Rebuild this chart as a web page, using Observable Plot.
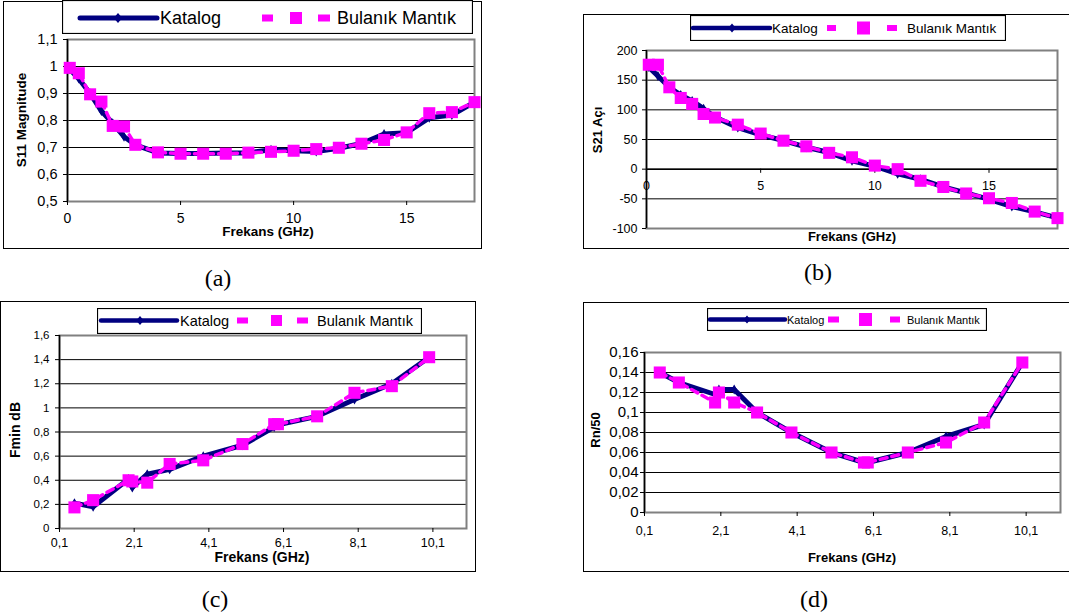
<!DOCTYPE html>
<html><head><meta charset="utf-8">
<script src="https://cdn.jsdelivr.net/npm/d3@7"></script>
<script src="https://cdn.jsdelivr.net/npm/@observablehq/plot@0.6"></script>
<style>
html,body{margin:0;padding:0;background:#fff;}
body{width:1069px;height:616px;overflow:hidden;position:relative;font-family:"Liberation Sans",Arial,sans-serif;color:#000;}
.box{position:absolute;border:1.5px solid #000;box-sizing:border-box;}
.svgwrap{position:absolute;}
.ttl{position:absolute;font-weight:bold;white-space:nowrap;transform:translate(-50%,-50%);line-height:1;}
.rot{transform:translate(-50%,-50%) rotate(-90deg);}
.cap{position:absolute;font-family:"Liberation Serif","Times New Roman",serif;font-size:24px;transform:translate(-50%,-50%);line-height:1;}
.leg{position:absolute;}
</style></head><body>
<script>
// ---------------- DATA ----------------
const seriesNames = ["Katalog", "Bulanık Mantık"];

// (a) S11 Magnitude and (b) S21 angle
const freqAB = [0.1, 0.5, 1, 1.5, 2, 2.5, 3, 4, 5, 6, 7, 8, 9, 10, 11, 12, 13, 14, 15, 16, 17, 18];
const s11Katalog = [0.99, 0.955, 0.9, 0.835, 0.79, 0.74, 0.71, 0.68, 0.678, 0.678, 0.68, 0.68, 0.692, 0.688, 0.685, 0.697, 0.715, 0.75, 0.755, 0.81, 0.82, 0.868];
const s11Bulanik = [0.995, 0.975, 0.897, 0.87, 0.78, 0.778, 0.71, 0.682, 0.677, 0.677, 0.677, 0.681, 0.684, 0.688, 0.694, 0.699, 0.714, 0.728, 0.756, 0.827, 0.831, 0.868];
const s21Katalog = [172, 157, 138, 125, 115, 102, 88, 70, 58, 48, 37, 28, 14, 5, -8, -17, -30, -40, -51, -63, -72, -82];
const s21Bulanik = [176, 176, 138, 120, 110, 93, 87, 75, 60, 48, 38.5, 27.5, 20, 6, 0, -19.6, -30, -41, -49, -57, -71.5, -82.5];

// (c) Fmin dB and (d) Rn/50
const freqCD = [0.5, 1, 1.95, 2.05, 2.45, 3.05, 3.95, 5, 5.85, 5.95, 7, 8, 9, 10];
const fminKatalog = [0.21, 0.18, 0.41, 0.34, 0.45, 0.49, 0.6, 0.69, 0.84, 0.86, 0.93, 1.07, 1.2, 1.42];
const fminBulanik = [0.175, 0.235, 0.40, 0.39, 0.38, 0.535, 0.565, 0.70, 0.865, 0.865, 0.93, 1.125, 1.18, 1.42];
const rnKatalog = [0.14, 0.13, 0.118, 0.123, 0.123, 0.1, 0.08, 0.06, 0.05, 0.05, 0.06, 0.076, 0.088, 0.15];
const rnBulanik = [0.14, 0.13, 0.11, 0.12, 0.11, 0.1, 0.08, 0.06, 0.05, 0.05, 0.06, 0.07, 0.09, 0.15];

// ticks
const ticksXab = [0, 5, 10, 15];
const ticksYa = [0.5, 0.6, 0.7, 0.8, 0.9, 1, 1.1];
const ticksYb = [-100, -50, 0, 50, 100, 150, 200];
const ticksXcd = [0.1, 2.1, 4.1, 6.1, 8.1, 10.1];
const ticksYc = [0, 0.2, 0.4, 0.6, 0.8, 1, 1.2, 1.4, 1.6];
const ticksYd = [0, 0.02, 0.04, 0.06, 0.08, 0.1, 0.12, 0.14, 0.16];

// ---------------- HELPERS ----------------
const comma = d => String(+(+d).toFixed(3)).replace(".", ",");
const zip = (f, v) => f.map((x, i) => ({f: x, v: v[i]}));
const NAVY = "#000080", MAGENTA = "#FF00FF";

function addDiv(cls, css, html) {
  const d = document.createElement("div");
  d.className = cls;
  Object.assign(d.style, css);
  if (html != null) d.textContent = html;
  document.body.appendChild(d);
  return d;
}

function panel(p) {
  addDiv("box", {left: p.box[0] + "px", top: p.box[1] + "px", width: p.box[2] + "px", height: p.box[3] + "px"});
  const kat = zip(p.freq, p.kat), bul = zip(p.freq, p.bul);
  const marks = [
    Plot.gridY({ticks: p.yTicks, stroke: "#000", strokeOpacity: 1, strokeWidth: 1}),
    Plot.frame({stroke: "#808080", strokeWidth: 2}),
    Plot.ruleX([p.xDomain[0]], {stroke: "#000", strokeWidth: 1.5}),
    Plot.axisY({ticks: p.yTicks, tickSize: 4, tickPadding: p.yPad, fontSize: p.yFont, tickFormat: comma, label: null})
  ];
  if (p.xAtZero) {
    marks.push(
      Plot.ruleY([0], {stroke: "#000", strokeWidth: 1.5}),
      Plot.ruleX(p.xTicks, {x: d => d, y1: () => 0, y2: () => -7, stroke: "#000"}),
      Plot.text(p.xTicks, {x: d => d, y: () => 0, text: d => comma(d), dy: 12, lineAnchor: "top", fontSize: p.xFont, fill: "#000"})
    );
  } else {
    marks.push(Plot.axisX({ticks: p.xTicks, tickSize: 4, tickPadding: p.xPad, fontSize: p.xFont, tickFormat: comma, label: null}));
  }
  marks.push(
    Plot.line(kat, {x: "f", y: "v", stroke: NAVY, strokeWidth: 5}),
    Plot.dot(kat, {x: "f", y: "v", symbol: "diamond", r: 3, fill: NAVY}),
    Plot.line(bul, {x: "f", y: "v", stroke: MAGENTA, strokeWidth: 3.5, strokeDasharray: "7,5"}),
    Plot.dot(bul, {x: "f", y: "v", symbol: "square", r: 6.8, fill: MAGENTA})
  );
  const xOpts = {domain: p.xDomain, label: null};
  if (p.xAtZero) xOpts.axis = null;
  const chart = Plot.plot({
    width: p.svg[2], height: p.svg[3],
    marginLeft: p.m[0], marginRight: p.m[1], marginTop: p.m[2], marginBottom: p.m[3],
    style: {background: "transparent", color: "#000", fontFamily: "Liberation Sans, Arial, sans-serif", overflow: "visible"},
    x: xOpts,
    y: {domain: p.yDomain, label: null},
    marks
  });
  const w = addDiv("svgwrap", {left: p.svg[0] + "px", top: p.svg[1] + "px"});
  w.appendChild(chart);
  // axis titles
  addDiv("ttl", {left: p.xt[0] + "px", top: p.xt[1] + "px", fontSize: p.xt[2] + "px"}, "Frekans (GHz)");
  addDiv("ttl rot", {left: p.yt[0] + "px", top: p.yt[1] + "px", fontSize: p.yt[2] + "px"}, p.yLabel);
  addDiv("cap", {left: p.cap[0] + "px", top: p.cap[1] + "px"}, p.capText);
  legend(p.leg);
}

function legend(L) {
  const svg = d3.create("svg").attr("width", L.w).attr("height", L.h)
    .style("position", "absolute").style("left", L.left + "px").style("top", L.top + "px");
  svg.append("rect").attr("x", 0.5).attr("y", 0.5).attr("width", L.w - 1).attr("height", L.h - 1)
    .attr("fill", "#fff").attr("stroke", "#000").attr("stroke-width", 1.2);
  svg.append("line").attr("x1", L.line[0]).attr("x2", L.line[1]).attr("y1", L.cy).attr("y2", L.cy)
    .attr("stroke", NAVY).attr("stroke-width", L.lw).attr("stroke-linecap", "round");
  const ds = L.ds;
  svg.append("path").attr("d", `M${L.dia},${L.cy - ds}L${L.dia + ds * 0.85},${L.cy}L${L.dia},${L.cy + ds}L${L.dia - ds * 0.85},${L.cy}Z`).attr("fill", NAVY);
  svg.append("text").attr("x", L.kx).attr("y", L.cy).attr("dominant-baseline", "central")
    .attr("font-size", L.font).attr("font-family", "Liberation Sans, Arial, sans-serif").text(seriesNames[0]);
  const dh = L.dh, sq = L.sq[1] - L.sq[0];
  for (const d of [L.d1, L.d2]) svg.append("rect").attr("x", d[0]).attr("width", d[1] - d[0]).attr("y", L.cy - dh / 2).attr("height", dh).attr("fill", MAGENTA);
  svg.append("rect").attr("x", L.sq[0]).attr("width", sq).attr("y", L.cy - sq / 2).attr("height", sq).attr("fill", MAGENTA);
  svg.append("text").attr("x", L.bx).attr("y", L.cy).attr("dominant-baseline", "central")
    .attr("font-size", L.font).attr("font-family", "Liberation Sans, Arial, sans-serif").text(seriesNames[1]);
  document.body.appendChild(svg.node());
}

// ---------------- PANELS ----------------
panel({
  box: [3, 1, 479, 248], svg: [0, 0, 482, 250], m: [67, 8, 39, 49],
  xDomain: [0, 18], yDomain: [0.5, 1.1], xTicks: ticksXab, yTicks: ticksYa,
  xPad: 8, yPad: 6, xFont: 14, yFont: 14.5,
  freq: freqAB, kat: s11Katalog, bul: s11Bulanik,
  xt: [268, 232, 13.5], yt: [22, 120, 13.5], yLabel: "S11 Magnitude",
  cap: [218, 278], capText: "(a)",
  leg: {left: 62, top: 0, w: 411, h: 34, font: 18, cy: 18, line: [18, 95], lw: 5, dia: 56, ds: 5, kx: 98, d1: [200, 211], sq: [228, 240], d2: [256, 268], dh: 7, bx: 275}
});

panel({
  box: [583, 14, 500, 235], svg: [583, 14, 486, 236], m: [63, 12, 36, 22],
  xDomain: [0, 18], yDomain: [-100, 200], xTicks: ticksXab, yTicks: ticksYb, xAtZero: true,
  xPad: 0, yPad: 5, xFont: 12.5, yFont: 12.5,
  freq: freqAB, kat: s21Katalog, bul: s21Bulanik,
  xt: [852, 236, 13], yt: [597, 130, 13], yLabel: "S21 Açı",
  cap: [818, 272], capText: "(b)",
  leg: {left: 690, top: 15, w: 316, h: 26, font: 13.5, cy: 13, line: [3, 80], lw: 4.5, dia: 42, ds: 4.5, kx: 82, d1: [137, 146], sq: [167, 180], d2: [197, 207], dh: 6, bx: 217}
});

panel({
  box: [0, 301, 476, 271], svg: [0, 301, 476, 271], m: [59, 10, 34, 44],
  xDomain: [0.1, 11.0], yDomain: [0, 1.6], xTicks: ticksXcd, yTicks: ticksYc,
  xPad: 6, yPad: 6, xFont: 12.5, yFont: 11.5,
  freq: freqCD, kat: fminKatalog, bul: fminBulanik,
  xt: [262, 557, 14], yt: [15, 430, 14], yLabel: "Fmin dB",
  cap: [215, 599], capText: "(c)",
  leg: {left: 97, top: 308, w: 325, h: 26, font: 14.5, cy: 12.5, line: [4, 80], lw: 4.5, dia: 43, ds: 4.5, kx: 83, d1: [140, 151], sq: [174, 185], d2: [200, 211], dh: 6, bx: 220}
});

panel({
  box: [583, 302, 500, 270], svg: [583, 302, 486, 270], m: [61, 9, 50, 60],
  xDomain: [0.1, 11.0], yDomain: [0, 0.16], xTicks: ticksXcd, yTicks: ticksYd,
  xPad: 10, yPad: 2, xFont: 12.5, yFont: 15,
  freq: freqCD, kat: rnKatalog, bul: rnBulanik,
  xt: [852, 557, 13], yt: [595, 430, 13], yLabel: "Rn/50",
  cap: [814, 599], capText: "(d)",
  leg: {left: 707, top: 308, w: 280, h: 23, font: 11, cy: 11.5, line: [3, 78], lw: 4.5, dia: 40, ds: 4, kx: 80, d1: [121, 132], sq: [152, 165], d2: [183, 193], dh: 6, bx: 200}
});
</script>
</body></html>
